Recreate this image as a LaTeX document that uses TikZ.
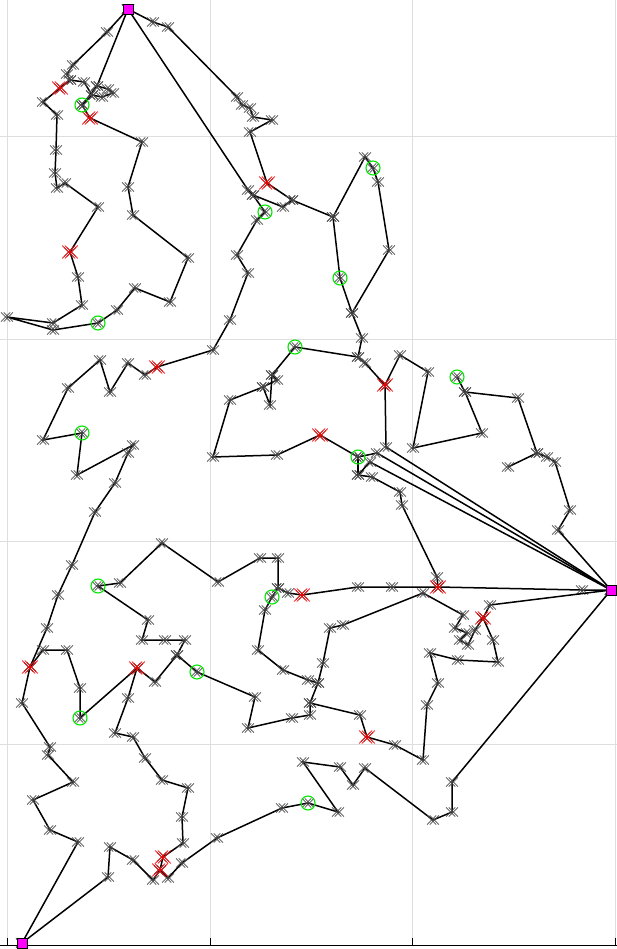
\documentclass[tikz,border=0pt]{standalone}
\usetikzlibrary{plotmarks}
\definecolor{depotmag}{RGB}{255,0,255}
\definecolor{markred}{RGB}{255,0,0}
\definecolor{markgreen}{RGB}{0,230,0}
\pgfdeclareplotmark{dblx}{%
  \pgfpathmoveto{\pgfpoint{-1.4pt-\pgfplotmarksize}{-\pgfplotmarksize}}%
  \pgfpathlineto{\pgfpoint{-1.4pt+\pgfplotmarksize}{\pgfplotmarksize}}%
  \pgfpathmoveto{\pgfpoint{-1.4pt-\pgfplotmarksize}{\pgfplotmarksize}}%
  \pgfpathlineto{\pgfpoint{-1.4pt+\pgfplotmarksize}{-\pgfplotmarksize}}%
  \pgfpathmoveto{\pgfpoint{1.4pt-\pgfplotmarksize}{-\pgfplotmarksize}}%
  \pgfpathlineto{\pgfpoint{1.4pt+\pgfplotmarksize}{\pgfplotmarksize}}%
  \pgfpathmoveto{\pgfpoint{1.4pt-\pgfplotmarksize}{\pgfplotmarksize}}%
  \pgfpathlineto{\pgfpoint{1.4pt+\pgfplotmarksize}{-\pgfplotmarksize}}%
  \pgfusepathqstroke}
\begin{document}
\begin{tikzpicture}[x=1pt,y=-1pt,
  gridline/.style={draw=black!13, line width=0.8pt},
  route/.style={line width=1.5pt, black, mark=dblx, mark size=4.6pt, mark options={line width=0.65pt, black!70}},
  redmark/.style={only marks, mark=dblx, mark size=6.5pt, mark options={line width=0.65pt, markred}},
  greenmark/.style={only marks, mark=o, mark size=7pt, mark options={line width=1.1pt, markgreen}},
  depot/.style={draw=black, fill=depotmag, minimum size=10pt, inner sep=0pt, line width=0.9pt, rectangle}]
\useasboundingbox (0,0) rectangle (617,949);
% grid
\foreach \gx in {7,210,412,615} \draw[gridline] (\gx,0) -- (\gx,945);
\foreach \gy in {136,339,541,744} \draw[gridline] (0,\gy) -- (617,\gy);
\draw[line width=1pt] (0,945) -- (617,945);
\foreach \gx in {7,210,412,615} \draw[line width=0.8pt] (\gx,945) -- (\gx,938);
% depots
\coordinate (A) at (128,9);
\coordinate (B) at (611,590);
\coordinate (C) at (22,943);
% routes
\draw[route] plot coordinates {(A) (107,32) (73,65) (67,74) (70,80) (60,88) (43,102) (57,115) (56,150) (55,173) (57,188) (65,183) (98,207) (70,252) (78,277) (82,305) (53,323) (7,317) (53,330) (98,323) (117,310) (135,288) (170,302) (188,258) (133,215) (128,187) (142,142) (90,118) (82,105) (97,86) (A)};
\draw[route] plot coordinates {(70,80) (84,82) (92,95) (82,105)};
\draw[route] plot coordinates {(97,86) (108,89) (113,93) (102,97) (92,95)};
\draw[route] plot coordinates {(A) (153,22) (168,27) (237,97) (242,105) (250,108) (253,117) (272,120) (250,132) (267,183) (292,200) (333,217) (365,157) (373,168) (378,182) (389,250) (352,313) (362,338) (358,357) (365,363) (385,385) (386,447) (B)};
\draw[route] plot coordinates {(333,217) (340,278) (352,313)};
\draw[route] plot coordinates {(A) (248,190) (253,195) (265,212) (257,220) (237,255) (248,273) (230,320) (213,350) (157,367) (145,375) (128,363) (110,392) (100,360) (68,388) (43,440) (82,433) (77,475) (133,445) (128,453) (115,483) (95,512) (72,565) (58,595) (47,628) (30,667) (22,703) (50,747) (48,755) (73,782) (33,800) (50,830) (78,842) (C)};
\draw[route] plot coordinates {(253,195) (283,207) (292,200)};
\draw[route] plot coordinates {(30,667) (43,650) (67,650) (80,688) (80,718) (137,668) (155,682) (177,655) (185,640) (165,640) (142,640) (148,620) (98,586) (120,583) (162,543) (218,582) (260,558) (278,558) (278,588) (288,593) (302,595) (358,587) (392,587) (438,587) (582,590) (B)};
\draw[route] plot coordinates {(137,668) (128,698) (115,733) (133,737) (145,758) (162,780) (188,788) (182,817) (183,843) (163,857) (160,870) (153,880) (133,860) (110,847) (108,877) (C)};
\draw[route] plot coordinates {(177,655) (197,672) (255,697) (248,728) (292,718) (310,715) (310,703) (360,715) (367,737) (395,745) (423,760) (427,705) (438,683) (430,653) (458,660) (498,662) (493,640) (483,618) (490,605) (B)};
\draw[route] plot coordinates {(160,870) (168,878) (182,863) (217,838) (282,808) (308,803) (338,812) (303,762) (340,767) (353,785) (365,768) (433,820) (452,812) (452,782) (B)};
\draw[route] plot coordinates {(278,588) (272,597) (265,610) (258,650) (283,670) (308,680) (318,683) (323,663) (330,628) (343,625) (423,593) (463,615) (455,628) (467,633) (460,640) (468,645) (475,630) (483,618)};
\draw[route] plot coordinates {(318,683) (310,703)};
\draw[route] plot coordinates {(B) (558,530) (570,510) (555,462) (547,457) (537,453) (518,398) (465,392) (482,433) (413,448) (428,372) (400,355) (385,385)};
\draw[route] plot coordinates {(537,453) (508,467)};
\draw[route] plot coordinates {(465,392) (457,377)};
\draw[route] plot coordinates {(B) (377,453) (358,457) (320,435) (277,455) (213,457) (230,400) (263,387) (277,380) (272,375) (295,347) (358,357)};
\draw[route] plot coordinates {(272,375) (270,405) (263,387)};
\draw[route] plot coordinates {(B) (370,462) (358,475) (372,477) (400,492) (402,505) (437,577) (438,587)};
\draw[route] plot coordinates {(358,457) (358,475)};
% red markers
\draw[redmark] plot coordinates {(60,88) (90,118) (70,252) (267,183) (157,367) (385,385) (320,435) (438,587) (302,595) (483,618) (30,667) (137,668) (367,737) (163,857) (160,870)};
% green markers
\draw[greenmark] plot coordinates {(82,105) (98,323) (265,212) (373,168) (340,278) (295,347) (82,433) (358,457) (457,377) (98,586) (272,597) (197,672) (80,718) (308,803)};
% depot squares
\node[depot] (dA) at (A) {};
\node[depot] (dB) at (B) {};
\node[depot] (dC) at (C) {};
\end{tikzpicture}
\end{document}
